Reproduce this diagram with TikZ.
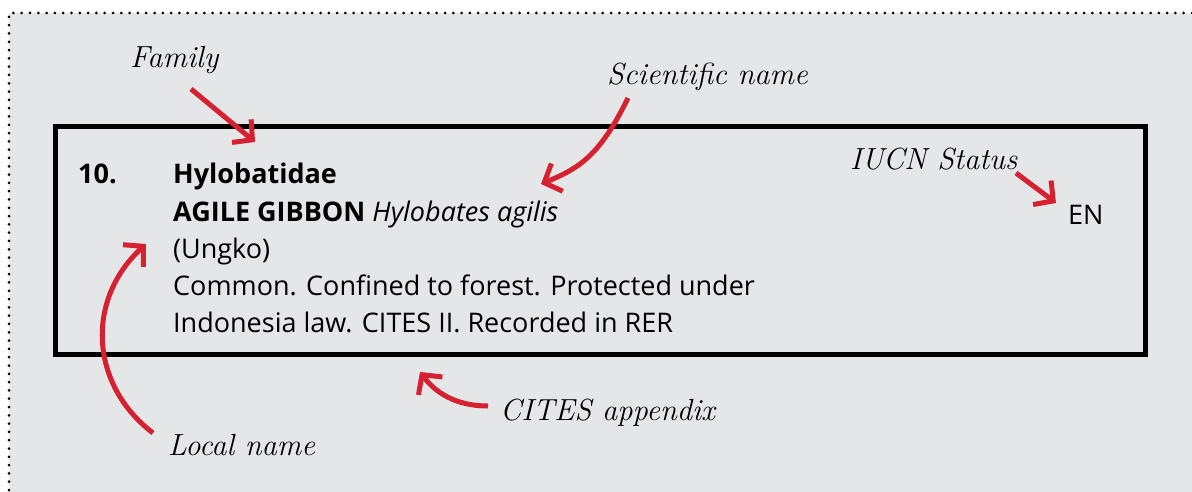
\documentclass[tikz,border=0pt]{standalone}
\usepackage{fontspec}
\setmainfont{Open Sans}
\newfontfamily\scriptlbl{Latin Modern Roman}
\usetikzlibrary{arrows.meta}
\definecolor{panelgray}{RGB}{229,230,232}
\definecolor{arrowred}{RGB}{213,33,48}
\tikzset{
  body/.style={anchor=base west, inner sep=0pt, font=\fontsize{27}{32}\selectfont},
  lbl/.style={anchor=base west, inner sep=0pt, font=\scriptlbl\itshape\fontsize{30.5}{36}\selectfont},
  redarrow/.style={draw=arrowred, line width=5pt, -{Straight Barb[length=14pt,width=30pt,line width=5pt]}},
}
\begin{document}
\begin{tikzpicture}[x=1pt,y=-1pt]
\useasboundingbox (0,0) rectangle (1192,492);
\fill[white] (0,0) rectangle (1192,492);
\fill[panelgray] (9,13) rectangle (1192,492);
\draw[line width=3pt, line cap=round, dash pattern=on 0pt off 8.3pt] (1192,13) -- (9,13) -- (9,492);
\draw[line width=5pt] (55.5,127) rectangle (1145.5,354.5);
% body text
\node[body, font=\bfseries\fontsize{27}{32}\selectfont] (num) at (78,183) {10.};
\node[body, font=\bfseries\fontsize{27}{32}\selectfont] (family) at (173,183) {Hylobatidae};
\node[body] (common) at (173,221) {\textbf{AGILE GIBBON} \textit{Hylobates agilis}};
\node[body] (local) at (173,258) {(Ungko)};
\node[body] (notes1) at (173,295) {Common. Confined to forest. Protected under};
\node[body] (notes2) at (173,332) {Indonesia law. CITES II. Recorded in RER};
\node[body] (status) at (1068,225) {EN};
% labels
\node[lbl] (lfamily) at (130,68) {Family};
\node[lbl] (lsci) at (607,85) {Scientific name};
\node[lbl] (liucn) at (850,170) {IUCN Status};
\node[lbl] (lcites) at (500,420) {CITES appendix};
\node[lbl] (llocal) at (168,455) {Local name};
% arrow end points
\coordinate (fs) at (191,89);   \coordinate (ft) at (255,142);
\coordinate (ss) at (628,98);   \coordinate (st) at (541,184);
\coordinate (is) at (1016,173); \coordinate (it) at (1056,203);
\coordinate (ls) at (153,433);  \coordinate (lt) at (146,244);
\coordinate (cs) at (488,406);  \coordinate (ct) at (420,372);
\draw[redarrow] (fs) -- (ft);
\draw[redarrow] (ss) .. controls (600,155) and (580,168) .. (st);
\draw[redarrow] (is) -- (it);
\draw[redarrow] (ls) .. controls (90,385) and (85,300) .. (lt);
\draw[redarrow] (cs) .. controls (455,406) and (435,392) .. (ct);
\end{tikzpicture}
\end{document}
